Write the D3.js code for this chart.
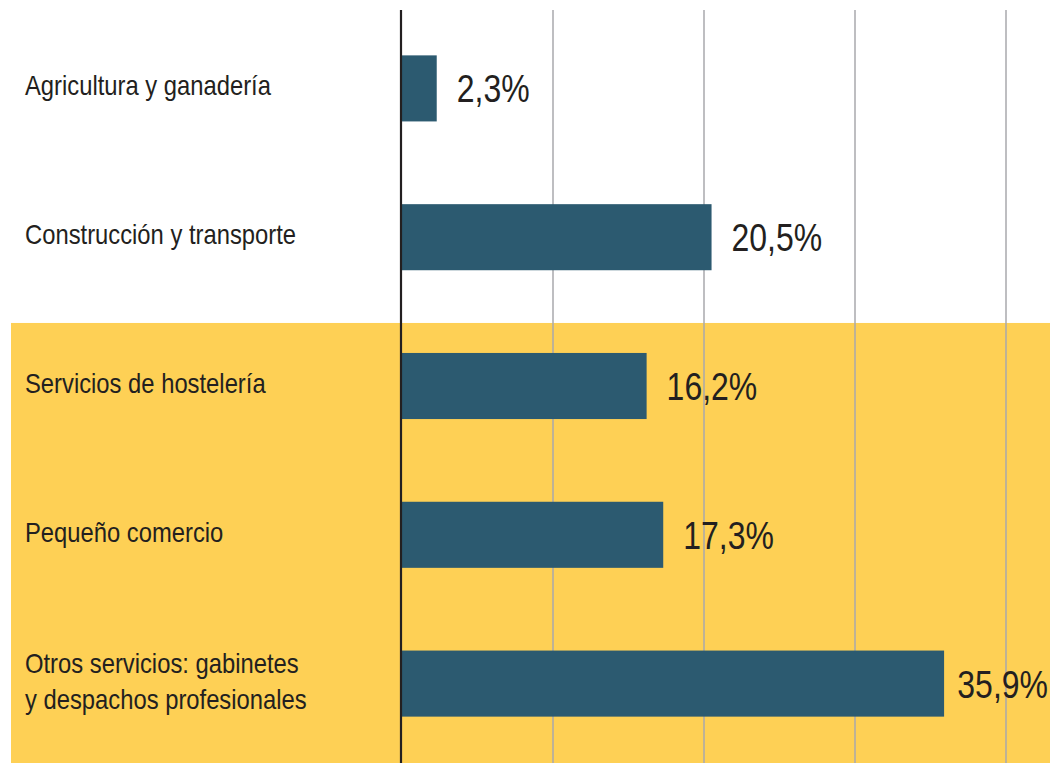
<!DOCTYPE html>
<html>
<head>
<meta charset="utf-8">
<script src="https://cdn.jsdelivr.net/npm/d3@7"></script>
<style>
  html, body { margin: 0; padding: 0; background: #ffffff; }
  svg { display: block; }
  text { font-family: "Liberation Sans", Arial, sans-serif; fill: #231f20; }
</style>
</head>
<body>
<div id="chart"></div>
<script>
/** Chart data */
const sectors = [
  "Agricultura y ganadería",
  "Construcción y transporte",
  "Servicios de hostelería",
  "Pequeño comercio",
  "Otros servicios: gabinetes\ny despachos profesionales",
];
const shares = [2.3, 20.5, 16.2, 17.3, 35.9];
const highlighted = sectors.slice(2);
const gridTicks = [10, 20, 30, 40];

/** Graph configs */
const width = 1050;
const height = 763;
const plotTop = 10;
// no condensed face is installed, so squeeze a regular one
const labelSqueeze = 0.85;
const valueSqueeze = 0.82;

const svg = d3
  .select("#chart")
  .append("svg")
  .attr("width", width)
  .attr("height", height);

const x = d3.scaleLinear().domain([0, 40]).range([402, 1006]);

const y = d3
  .scaleBand()
  .domain(sectors)
  .range([14, 758])
  .paddingInner(0.556)
  .paddingOuter(0.278);

const fmt = (v) => d3.format(".1f")(v).replace(".", ",") + "%";

// yellow highlight behind the service sectors
const hlTop = y(highlighted[0]) - 30;
svg
  .append("rect")
  .attr("x", 11)
  .attr("y", hlTop)
  .attr("width", width - 11)
  .attr("height", height - hlTop)
  .attr("fill", "#fed055");

// vertical gridlines
svg
  .selectAll("line.grid")
  .data(gridTicks)
  .enter()
  .append("line")
  .attr("class", "grid")
  .attr("x1", (d) => x(d))
  .attr("x2", (d) => x(d))
  .attr("y1", plotTop)
  .attr("y2", height)
  .attr("stroke", "#a8a8ad")
  .attr("stroke-width", 1.5);

// bars
svg
  .selectAll("rect.bar")
  .data(shares)
  .enter()
  .append("rect")
  .attr("class", "bar")
  .attr("x", x(0))
  .attr("y", (d, i) => y(sectors[i]))
  .attr("width", (d) => x(d) - x(0))
  .attr("height", y.bandwidth())
  .attr("fill", "#2c5a70");

// zero axis
svg
  .append("line")
  .attr("x1", x(0) - 1)
  .attr("x2", x(0) - 1)
  .attr("y1", plotTop)
  .attr("y2", height)
  .attr("stroke", "#231f20")
  .attr("stroke-width", 2.2);

// value labels, pulled in if they would run past the right edge
svg
  .selectAll("text.value")
  .data(shares)
  .enter()
  .append("text")
  .attr("class", "value")
  .style("font-size", "39px")
  .text(fmt)
  .attr("transform", function (d, i) {
    const w = this.getComputedTextLength() * valueSqueeze;
    const tx = Math.min(x(d) + 20, width - 2 - w);
    const ty = y(sectors[i]) + y.bandwidth() / 2 + 14;
    return `translate(${tx},${ty}) scale(${valueSqueeze},1)`;
  });

// category labels
const lh = 36;
svg
  .selectAll("text.label")
  .data(sectors)
  .enter()
  .append("text")
  .attr("class", "label")
  .attr("transform", (d) => {
    const n = d.split("\n").length;
    const cy = y(d) + y.bandwidth() / 2 + 7 - ((n - 1) / 2) * lh;
    return `translate(25,${cy}) scale(${labelSqueeze},1)`;
  })
  .style("font-size", "28px")
  .each(function (d) {
    d3.select(this)
      .selectAll("tspan")
      .data(d.split("\n"))
      .enter()
      .append("tspan")
      .attr("x", 0)
      .attr("y", (l, i) => i * lh)
      .text((l) => l);
  });
</script>
</body>
</html>
